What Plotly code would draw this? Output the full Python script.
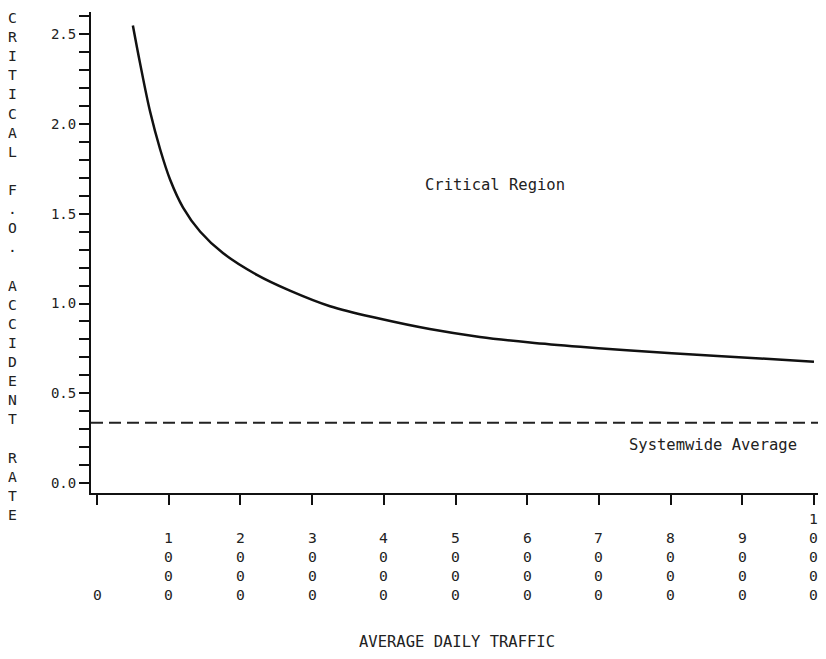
import plotly.graph_objects as go

# ---- data ----
adt = [500, 600, 740, 880, 1020, 1200, 1440, 1760, 2230, 2690, 3250, 3950,
       4640, 5340, 6040, 6740, 7390, 8310, 9250, 10000]
critical_rate = [2.55, 2.34, 2.07, 1.86, 1.69, 1.535, 1.40, 1.28, 1.16, 1.072,
                 0.985, 0.915, 0.858, 0.814, 0.783, 0.759, 0.740, 0.716, 0.694, 0.675]
systemwide_avg = 0.335

x_tick_values = [0, 1000, 2000, 3000, 4000, 5000, 6000, 7000, 8000, 9000, 10000]
y_tick_values = [0.0, 0.5, 1.0, 1.5, 2.0, 2.5]
y_tick_labels = ["0.0", "0.5", "1.0", "1.5", "2.0", "2.5"]

y_title = "CRITICAL F.O. ACCIDENT RATE"
x_title = "AVERAGE DAILY TRAFFIC"
region_label = "Critical Region"
avg_label = "Systemwide Average"

FONT = "DejaVu Sans Mono"
INK = "#222222"

fig = go.Figure()
fig.add_trace(go.Scatter(
    x=adt, y=critical_rate, mode="lines",
    line=dict(color="#111111", width=2.5, shape="spline", smoothing=1.0),
    showlegend=False, hoverinfo="skip"))

fig.add_shape(type="line", xref="paper", x0=0, x1=1, yref="y",
              y0=systemwide_avg, y1=systemwide_avg,
              line=dict(color="#222222", width=2, dash="12px,6px"))

# vertical tick labels on x-axis (bottom aligned)
for v in x_tick_values:
    fig.add_annotation(x=v, xref="x", y=-0.233, yref="paper",
                       text="<br>".join(str(v)), showarrow=False,
                       xanchor="center", yanchor="bottom",
                       font=dict(family=FONT, size=14.7, color=INK))

# vertical y-axis title
fig.add_annotation(x=-0.108, xref="paper", y=1.01, yref="paper",
                   text="<br>".join([c if c != " " else "&nbsp;" for c in y_title]),
                   showarrow=False, xanchor="center", yanchor="top",
                   font=dict(family=FONT, size=14.7, color=INK))

fig.add_annotation(x=0.5, xref="paper", y=-0.31, yref="paper",
                   text=x_title, showarrow=False, xanchor="center", yanchor="middle",
                   font=dict(family=FONT, size=15.5, color=INK))

fig.add_annotation(x=5551, y=1.661, text=region_label, showarrow=False,
                   font=dict(family=FONT, size=15.5, color=INK))
fig.add_annotation(x=8591, y=0.212, text=avg_label, showarrow=False,
                   font=dict(family=FONT, size=15.5, color=INK))

fig.update_xaxes(range=[-84, 10112], showline=True, linecolor="#111111", linewidth=2,
                 ticks="outside", ticklen=10, tickwidth=2, tickcolor="#111111",
                 tickvals=x_tick_values, showticklabels=False,
                 showgrid=False, zeroline=False)
fig.update_yaxes(range=[-0.056, 2.625], showline=True, linecolor="#111111", linewidth=2,
                 ticks="outside", ticklen=10, tickwidth=2, tickcolor="#111111",
                 tickvals=y_tick_values, ticktext=y_tick_labels,
                 tickfont=dict(family=FONT, size=14, color=INK),
                 minor=dict(tick0=0, dtick=0.1, ticks="outside", ticklen=10,
                            tickwidth=2, tickcolor="#111111", showgrid=False),
                 showgrid=False, zeroline=False)

fig.update_layout(width=826, height=659,
                  margin=dict(l=83, r=12, t=4, b=174),
                  paper_bgcolor="white", plot_bgcolor="white",
                  showlegend=False)

fig.write_html("out.html")
